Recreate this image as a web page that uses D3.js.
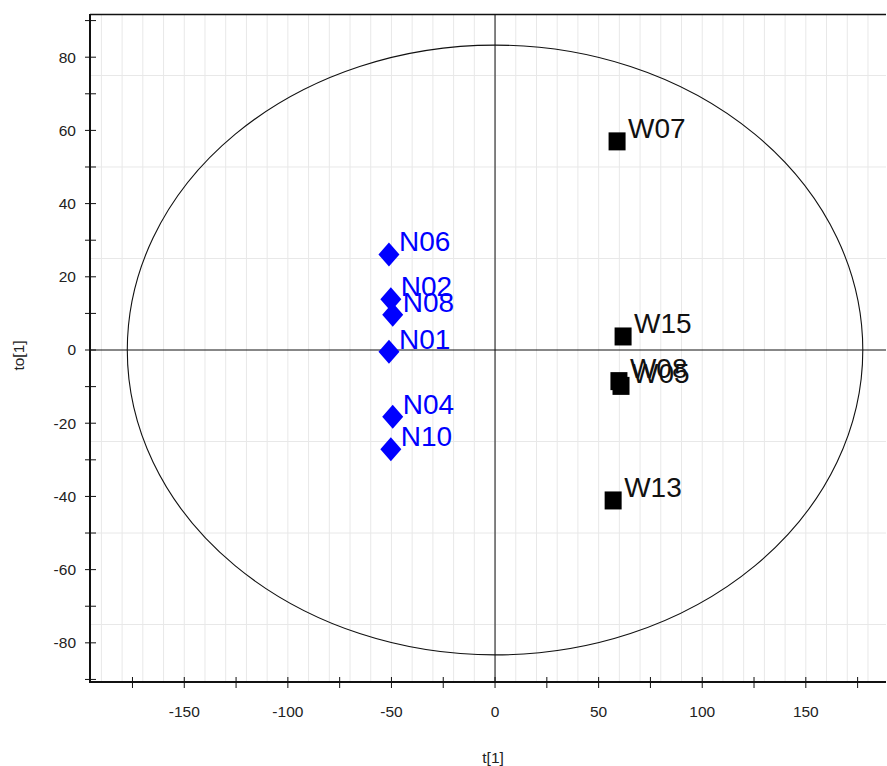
<!DOCTYPE html>
<html>
<head>
<meta charset="utf-8">
<script src="https://cdn.jsdelivr.net/npm/d3@7"></script>
<style>
  body { margin: 0; background: #fff; }
  text { font-family: "Liberation Sans", Arial, Helvetica, sans-serif; }
</style>
</head>
<body>
<div id="vis-holder"></div>
<script>
// chart size and plot box
const width = 887;
const height = 766;
const margin = { top: 14, right: 1, bottom: 84, left: 90 };

// group N (blue diamonds)
const nNames = ["N06", "N02", "N08", "N01", "N04", "N10"];
const nT  = [-51.2, -50.3, -49.4, -51.2, -49.4, -50.3];
const nTo = [26.1, 13.9, 9.6, -0.5, -18.2, -27.1];

// group W (black squares)
const wNames = ["W07", "W15", "W08", "W05", "W13"];
const wT  = [58.9, 61.8, 59.8, 60.8, 57.0];
const wTo = [57.0, 3.7, -8.5, -9.8, -41.1];

// ticks
const xLabelTicks = [-150, -100, -50, 0, 50, 100, 150];
const xMinorTicks = [-175, -150, -125, -100, -75, -50, -25, 0, 25, 50, 75, 100, 125, 150, 175];
const yLabelTicks = [-80, -60, -40, -20, 0, 20, 40, 60, 80];
const yMinorTicks = [-90, -80, -70, -60, -50, -40, -30, -20, -10, 0, 10, 20, 30, 40, 50, 60, 70, 80, 90];
const xGrid = d3.range(-190, 189, 10);
const yGrid = [-75, -50, -25, 25, 50, 75];

// Hotelling T2 ellipse radii
const ellipseT = 177.5;
const ellipseTo = 83.3;

const svg = d3.select("#vis-holder")
  .append("svg")
  .attr("width", width)
  .attr("height", height);

const x = d3.scaleLinear()
  .domain([-195.5, 188.7])
  .range([margin.left, width - margin.right]);

const y = d3.scaleLinear()
  .domain([-90.7, 91.8])
  .range([height - margin.bottom, margin.top]);

const x0 = margin.left, x1 = width - margin.right;
const y0 = height - margin.bottom, y1 = margin.top;

// grid
svg.append("g").selectAll("line")
  .data(xGrid)
  .enter().append("line")
  .attr("x1", d => x(d)).attr("x2", d => x(d))
  .attr("y1", y1).attr("y2", y0)
  .attr("stroke", "#e8e8e8").attr("stroke-width", 1);

svg.append("g").selectAll("line")
  .data(yGrid)
  .enter().append("line")
  .attr("x1", x0).attr("x2", x1)
  .attr("y1", d => y(d)).attr("y2", d => y(d))
  .attr("stroke", "#e8e8e8").attr("stroke-width", 1);

// zero lines
svg.append("line")
  .attr("x1", x(0)).attr("x2", x(0)).attr("y1", y1).attr("y2", y0)
  .attr("stroke", "#111").attr("stroke-width", 1);
svg.append("line")
  .attr("x1", x0).attr("x2", x1).attr("y1", y(0)).attr("y2", y(0))
  .attr("stroke", "#111").attr("stroke-width", 1);

// ellipse
svg.append("ellipse")
  .attr("cx", x(0)).attr("cy", y(0))
  .attr("rx", x(ellipseT) - x(0))
  .attr("ry", y(0) - y(ellipseTo))
  .attr("fill", "none")
  .attr("stroke", "#111").attr("stroke-width", 1.1);

// top border
svg.append("line")
  .attr("x1", x0).attr("x2", x1).attr("y1", y1 + 0.5).attr("y2", y1 + 0.5)
  .attr("stroke", "#111").attr("stroke-width", 1.3);

// x axis
const xAxis = svg.append("g");
xAxis.append("line")
  .attr("x1", x0).attr("x2", x1).attr("y1", y0).attr("y2", y0)
  .attr("stroke", "#111").attr("stroke-width", 2);
xAxis.selectAll(".tick")
  .data(xMinorTicks)
  .enter().append("line")
  .attr("x1", d => x(d)).attr("x2", d => x(d))
  .attr("y1", y0 - 5).attr("y2", y0 + 6)
  .attr("stroke", "#111").attr("stroke-width", 1);
xAxis.selectAll(".lbl")
  .data(xLabelTicks)
  .enter().append("text")
  .attr("x", d => x(d))
  .attr("y", y0 + 35)
  .attr("text-anchor", "middle")
  .attr("font-size", "15.5px")
  .attr("fill", "#222")
  .text(d => d);
xAxis.append("text")
  .attr("x", x(0) - 2)
  .attr("y", 763)
  .attr("text-anchor", "middle")
  .attr("font-size", "15.5px")
  .attr("fill", "#222")
  .text("t[1]");

// y axis
const yAxis = svg.append("g");
yAxis.append("line")
  .attr("x1", x0).attr("x2", x0).attr("y1", y1).attr("y2", y0 + 1)
  .attr("stroke", "#111").attr("stroke-width", 2);
yAxis.selectAll(".tick")
  .data(yMinorTicks)
  .enter().append("line")
  .attr("x1", x0 - 5).attr("x2", x0 + 6)
  .attr("y1", d => y(d)).attr("y2", d => y(d))
  .attr("stroke", "#111").attr("stroke-width", 1);
yAxis.selectAll(".lbl")
  .data(yLabelTicks)
  .enter().append("text")
  .attr("x", 76)
  .attr("y", d => y(d))
  .attr("dy", "0.35em")
  .attr("text-anchor", "end")
  .attr("font-size", "15.5px")
  .attr("fill", "#222")
  .text(d => d);
yAxis.append("text")
  .attr("transform", `translate(24, ${y(-1.5)}) rotate(-90)`)
  .attr("text-anchor", "middle")
  .attr("font-size", "15.5px")
  .attr("fill", "#222")
  .text("to[1]");

// points
const nData = nNames.map((name, i) => ({ name, t: nT[i], to: nTo[i] }));
const wData = wNames.map((name, i) => ({ name, t: wT[i], to: wTo[i] }));

const diamond = "M0,-12L10.5,0L0,12L-10.5,0Z";

svg.append("g").selectAll("path")
  .data(nData)
  .enter().append("path")
  .attr("d", diamond)
  .attr("transform", d => `translate(${x(d.t)},${y(d.to)})`)
  .attr("fill", "#0000ff");

svg.append("g").selectAll("rect")
  .data(wData)
  .enter().append("rect")
  .attr("x", d => x(d.t) - 8.5)
  .attr("y", d => y(d.to) - 9)
  .attr("width", 17)
  .attr("height", 18)
  .attr("fill", "#000");

// labels
svg.append("g").selectAll("text")
  .data(nData)
  .enter().append("text")
  .attr("x", d => x(d.t) + 10)
  .attr("y", d => y(d.to) - 3)
  .attr("font-size", "28px")
  .attr("fill", "#0000ff")
  .text(d => d.name);

svg.append("g").selectAll("text")
  .data(wData)
  .enter().append("text")
  .attr("x", d => x(d.t) + 11)
  .attr("y", d => y(d.to) - 3)
  .attr("font-size", "28px")
  .attr("fill", "#111")
  .text(d => d.name);
</script>
</body>
</html>
